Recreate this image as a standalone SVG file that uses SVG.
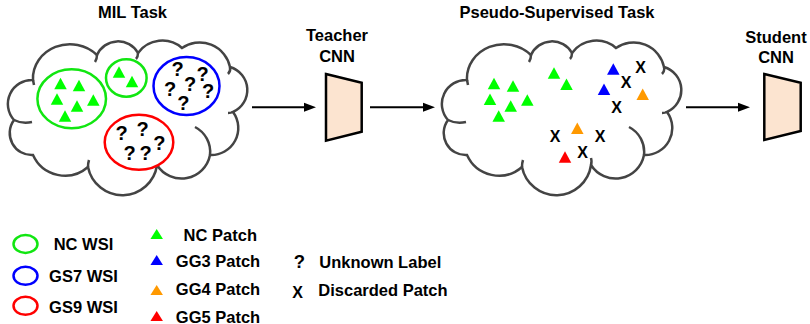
<svg xmlns="http://www.w3.org/2000/svg" xmlns:xlink="http://www.w3.org/1999/xlink" width="810" height="324" viewBox="0 0 810 324">
<style>
text{font-family:"Liberation Sans",Arial,sans-serif;font-weight:bold;fill:#000}
.t16{font-size:16.5px}
.q{font-size:20px;text-anchor:middle}
.x{font-size:16px;text-anchor:middle}
.mid{text-anchor:middle}
.cloud{fill:#fff;stroke:#444;stroke-width:2.5}
.tail{fill:none;stroke:#444;stroke-width:2.5}
.cnn{fill:#FCE4D0;stroke:#000;stroke-width:2.5;stroke-linejoin:miter}
.eg{fill:#fff;stroke:#11E611;stroke-width:2.5}
.eb{fill:#fff;stroke:#0000FF;stroke-width:2.5}
.er{fill:#fff;stroke:#FF0000;stroke-width:2.5}
.g{fill:#00FF00}.b{fill:#0000FF}.o{fill:#FF9900}.r{fill:#FF0000}
.conn{stroke:#000;stroke-width:2;fill:none}
</style>
<defs>
<path id="tri" d="M0,-5.75 L6.25,5.75 L-6.25,5.75 Z"/>
<path id="tri2" d="M0,-5 L6.25,5 L-6.25,5 Z"/>
<g id="cloudShape">
<path class="cloud" d="M14,120 A24 24 0 0 1 33,80 A37 34 0 0 1 97,55 A23 23 0 0 1 138,53 A30 30 0 0 1 182,48 A31 31 0 0 1 230,67 A24 24 0 0 1 233,112 A27 27 0 0 1 210,155 A29 29 0 0 1 157,165 A35 35 0 0 1 88,167 A35 35 0 0 1 33,155 A22 22 0 0 1 14,120 Z"/>
<path class="tail" d="M14,120 Q22,124 32,122 M33,80 l1,5 M97,55 q0,4 -2,7 M138,53 q0,4 -2,6 M230,67 q1,4 -2,7 M233,112 q-2,1 -5,1 M195,127 A28 28 0 0 1 210,155 M157,165 q1,-3 0,-7 M88,167 q0,-4 1,-7"/>
</g>
<marker id="ah" markerUnits="userSpaceOnUse" markerWidth="13" markerHeight="10" refX="0" refY="5" orient="auto">
<path d="M0,0.5 L12,5 L0,9.5 Z" fill="#000"/>
</marker>
</defs>

<g id="mil-task">
<text class="t16 mid" x="132.5" y="18">MIL Task</text>
<use xlink:href="#cloudShape"/>
<ellipse class="eg" cx="71.7" cy="98.8" rx="34.3" ry="29.5"/>
<ellipse class="eg" cx="126.3" cy="78" rx="20.3" ry="18.7"/>
<ellipse class="eb" cx="186.5" cy="86" rx="33" ry="29"/>
<ellipse class="er" cx="139" cy="142.3" rx="34.3" ry="27.5"/>
<g class="g">
<use xlink:href="#tri" x="60.5" y="83.5"/><use xlink:href="#tri" x="79" y="85.5"/><use xlink:href="#tri" x="57" y="99"/>
<use xlink:href="#tri" x="93.3" y="100"/><use xlink:href="#tri" x="77" y="106"/><use xlink:href="#tri" x="65" y="116"/>
<use xlink:href="#tri" x="119" y="72"/><use xlink:href="#tri" x="132" y="81.5"/>
</g>
<text class="q" x="177.5" y="75.5">?</text><text class="q" x="202.5" y="80.5">?</text><text class="q" x="190" y="90.5">?</text>
<text class="q" x="170" y="96">?</text><text class="q" x="208" y="98">?</text><text class="q" x="183.3" y="109.5">?</text>
<text class="q" x="121.7" y="140">?</text><text class="q" x="142.5" y="136">?</text><text class="q" x="159.3" y="149.5">?</text>
<text class="q" x="129.7" y="160">?</text><text class="q" x="145.7" y="160">?</text>
</g>

<g id="teacher-cnn">
<text class="t16 mid" x="337" y="41">Teacher</text>
<text class="t16 mid" x="337" y="62">CNN</text>
<polygon class="cnn" points="326,74 361.7,82.7 361.7,131.7 326,140.7"/>
</g>

<g id="pseudo-supervised-task">
<text class="t16 mid" x="557" y="18">Pseudo-Supervised Task</text>
<use xlink:href="#cloudShape" transform="translate(434,0)"/>
<g class="g">
<use xlink:href="#tri" x="494" y="83.5"/><use xlink:href="#tri" x="513" y="86"/><use xlink:href="#tri" x="490" y="99.3"/>
<use xlink:href="#tri" x="527.3" y="100"/><use xlink:href="#tri" x="510.7" y="106"/><use xlink:href="#tri" x="498.7" y="116"/>
<use xlink:href="#tri" x="554" y="73"/><use xlink:href="#tri" x="566.5" y="84.2"/>
</g>
<use class="b" xlink:href="#tri" x="613.3" y="69"/><use class="b" xlink:href="#tri" x="604" y="89.2"/>
<use class="o" xlink:href="#tri" x="642.7" y="94.2"/><use class="o" xlink:href="#tri" x="577.3" y="128.3"/>
<use class="r" xlink:href="#tri" x="565" y="157"/>
<text class="x" x="640.5" y="72.5">X</text><text class="x" x="626" y="87.5">X</text><text class="x" x="616.7" y="112.5">X</text>
<text class="x" x="555" y="141.5">X</text><text class="x" x="600" y="141.5">X</text><text class="x" x="582.7" y="158.2">X</text>
</g>

<g id="student-cnn">
<text class="t16 mid" x="776" y="43">Student</text>
<text class="t16 mid" x="776" y="63">CNN</text>
<polygon class="cnn" points="764.3,74 800.7,82.7 800.7,131 764.3,140"/>
</g>

<g id="connectors">
<line class="conn" x1="252" y1="107.3" x2="304" y2="107.3" marker-end="url(#ah)"/>
<line class="conn" x1="370" y1="107.3" x2="423" y2="107.3" marker-end="url(#ah)"/>
<line class="conn" x1="686" y1="107.3" x2="738" y2="107.3" marker-end="url(#ah)"/>
</g>

<g id="legend-wsi">
<ellipse class="eg" cx="25.5" cy="244" rx="12" ry="9"/>
<ellipse class="eb" cx="25.5" cy="275.8" rx="12" ry="9"/>
<ellipse class="er" cx="25.5" cy="305.8" rx="12" ry="9"/>
<text class="t16 mid" x="83.5" y="250">NC WSI</text>
<text class="t16 mid" x="83.5" y="281.7">GS7 WSI</text>
<text class="t16 mid" x="83.5" y="313.3">GS9 WSI</text>
</g>

<g id="legend-patch">
<use class="g" xlink:href="#tri2" x="156.7" y="234"/>
<use class="b" xlink:href="#tri2" x="156.7" y="260"/>
<use class="o" xlink:href="#tri2" x="156.7" y="290"/>
<use class="r" xlink:href="#tri2" x="156.7" y="316"/>
<text class="t16 mid" x="220.3" y="240.5">NC Patch</text>
<text class="t16 mid" x="218" y="266.7">GG3 Patch</text>
<text class="t16 mid" x="218" y="295">GG4 Patch</text>
<text class="t16 mid" x="218" y="322.5">GG5 Patch</text>
</g>

<g id="legend-marks">
<text class="mid" style="font-size:18.5px" x="299.5" y="268.3">?</text>
<text class="x" x="297.7" y="298.3">X</text>
<text class="t16" x="319.3" y="268">Unknown Label</text>
<text class="t16" x="318.3" y="296">Discarded Patch</text>
</g>
</svg>
